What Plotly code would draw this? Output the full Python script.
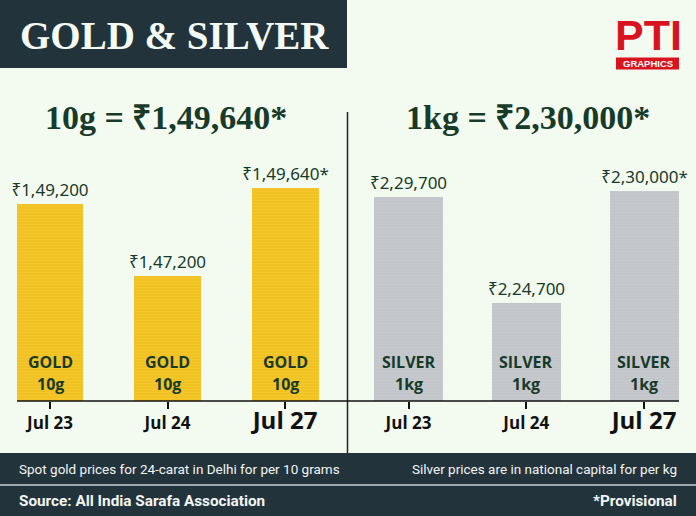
import plotly.graph_objects as go

# ---------------- data ----------------
dates = ["Jul 23", "Jul 24", "Jul 27"]
gold_prices = [149200, 147200, 149640]
silver_prices = [229700, 224700, 230000]
provisional = [False, False, True]
gold_name, gold_unit = "GOLD", "10g"
silver_name, silver_unit = "SILVER", "1kg"
gold_headline = 149640
silver_headline = 230000
title_text = "GOLD & SILVER"
note_gold = "Spot gold prices for 24-carat in Delhi for per 10 grams"
note_silver = "Silver prices are in national capital for per kg"
source_text = "Source: All India Sarafa Association"
prov_text = "*Provisional"

W, H = 696, 516
BG = "#f3fbf1"
DARK = "#22333c"
GREEN = "#173a29"


def inr(v):
    s = str(int(v))
    last3, rest = s[-3:], s[:-3]
    parts = []
    while len(rest) > 2:
        parts.insert(0, rest[-2:])
        rest = rest[:-2]
    if rest:
        parts.insert(0, rest)
    return ",".join(parts + [last3])


def px(x):
    return x / W


def py(y):
    return 1 - y / H


def labels(vals):
    return ["₹" + inr(v) + ("*" if p else "") for v, p in zip(vals, provisional)]


tick_text = [
    f"<span style='font-size:24px'>{d}</span>" if p else d
    for d, p in zip(dates, provisional)
]

fig = go.Figure()

fig.add_trace(go.Bar(
    x=dates, y=gold_prices, xaxis="x", yaxis="y", width=0.57,
    marker=dict(color="#f2c31f", line=dict(width=0),
                pattern=dict(shape="-", fgcolor="#f5cd3e", bgcolor="#f1c11f",
                             size=3, solidity=0.4)),
    text=labels(gold_prices), textposition="outside", constraintext="none",
    cliponaxis=False,
    outsidetextfont=dict(family="Noto Sans, Open Sans", size=17, color=GREEN),
    hoverinfo="skip",
))
fig.add_trace(go.Bar(
    x=dates, y=silver_prices, xaxis="x2", yaxis="y2", width=0.586,
    marker=dict(color="#c4c7cc", line=dict(width=0),
                pattern=dict(shape="-", fgcolor="#cbced2", bgcolor="#c2c5ca",
                             size=3, solidity=0.4)),
    text=labels(silver_prices), textposition="outside", constraintext="none",
    cliponaxis=False,
    outsidetextfont=dict(family="Noto Sans, Open Sans", size=17, color=GREEN),
    hoverinfo="skip",
))

ydom = [py(401), py(112)]
axis_common = dict(
    type="category", ticks="outside", ticklen=7, tickwidth=1.5, tickcolor="#111",
    showgrid=False, zeroline=False, showline=False,
    tickfont=dict(family="Open Sans", size=17, color="#111", weight="bold"),
    tickvals=dates, ticktext=tick_text, fixedrange=True,
)
fig.update_layout(
    width=W, height=H,
    margin=dict(l=0, r=0, t=0, b=0),
    paper_bgcolor=BG, plot_bgcolor=BG,
    showlegend=False, bargap=0,
    xaxis=dict(domain=[0, 0.5], range=[-0.4255, 2.536], anchor="y", **axis_common),
    xaxis2=dict(domain=[0.5, 1], range=[-0.514, 2.4416], anchor="y2", **axis_common),
    yaxis=dict(domain=ydom, range=[143687, 151778], visible=False, fixedrange=True),
    yaxis2=dict(domain=ydom, range=[220100, 233702], visible=False, fixedrange=True,
                anchor="x2"),
)

shapes = [
    dict(type="rect", xref="paper", yref="paper", x0=0, x1=px(347), y0=py(68), y1=1,
         fillcolor=DARK, line=dict(width=0), layer="below"),
    dict(type="rect", xref="paper", yref="paper", x0=0, x1=1, y0=0, y1=py(453),
         fillcolor=DARK, line=dict(width=0)),
    dict(type="line", xref="paper", yref="paper", x0=0, x1=1, y0=py(485), y1=py(485),
         line=dict(color="#c8d2d2", width=1.5)),
    dict(type="line", xref="paper", yref="paper", x0=px(347.5), x1=px(347.5),
         y0=py(112), y1=py(453), line=dict(color="#222", width=1.5)),
    dict(type="line", xref="paper", yref="paper", x0=px(17), x1=px(679),
         y0=py(401), y1=py(401), line=dict(color="#111", width=1.5)),
    dict(type="rect", xref="paper", yref="paper", x0=px(616), x1=px(679),
         y0=py(69.5), y1=py(57.5), fillcolor="#d9141f", line=dict(width=0)),
]
fig.update_layout(shapes=shapes)

ann = []
ann.append(dict(text=f"<b>{title_text}</b>", x=px(174), y=py(35), xref="paper", yref="paper",
                showarrow=False, xanchor="center", yanchor="middle",
                font=dict(family="Liberation Serif", size=39, color="#f4faf6")))
ann.append(dict(text="<b>PTI</b>", x=px(648), y=py(35), xref="paper", yref="paper",
                showarrow=False, xanchor="center", yanchor="middle",
                font=dict(family="Liberation Sans", size=43, color="#d9141f")))
ann.append(dict(text="<b>GRAPHICS</b>", x=px(647.5), y=py(63.5), xref="paper", yref="paper",
                showarrow=False, xanchor="center", yanchor="middle",
                font=dict(family="Liberation Sans", size=9.5, color="white")))
ann.append(dict(text=f"<b>{gold_unit} = ₹{inr(gold_headline)}*</b>", x=px(166), y=py(118),
                xref="paper", yref="paper", showarrow=False, xanchor="center",
                yanchor="middle",
                font=dict(family="Liberation Serif", size=34, color=GREEN)))
ann.append(dict(text=f"<b>{silver_unit} = ₹{inr(silver_headline)}*</b>", x=px(528), y=py(118),
                xref="paper", yref="paper", showarrow=False, xanchor="center",
                yanchor="middle",
                font=dict(family="Liberation Serif", size=34, color=GREEN)))

for xr, yr, name, unit in [("x", "y", gold_name, gold_unit), ("x2", "y2", silver_name, silver_unit)]:
    for d in dates:
        ann.append(dict(text=f"<b>{name}</b>", x=d, y=0, xref=xr, yref=yr + " domain",
                        showarrow=False, xanchor="center", yanchor="middle", yshift=39,
                        font=dict(family="Open Sans", size=16, color=GREEN)))
        ann.append(dict(text=f"<b>{unit}</b>", x=d, y=0, xref=xr, yref=yr + " domain",
                        showarrow=False, xanchor="center", yanchor="middle", yshift=17,
                        font=dict(family="Open Sans", size=16, color=GREEN)))

foot_font = dict(family="Roboto", size=13.5, color="#f2f6f4")
ann.append(dict(text=note_gold, x=px(17), y=py(469), xref="paper", yref="paper",
                showarrow=False, xanchor="left", yanchor="middle", font=foot_font))
ann.append(dict(text=note_silver, x=px(679), y=py(469), xref="paper", yref="paper",
                showarrow=False, xanchor="right", yanchor="middle", font=foot_font))
ann.append(dict(text=f"<b>{source_text}</b>", x=px(17), y=py(501), xref="paper", yref="paper",
                showarrow=False, xanchor="left", yanchor="middle",
                font=dict(family="Roboto", size=15.3, color="#f2f6f4")))
ann.append(dict(text=f"<b>{prov_text}</b>", x=px(679), y=py(501), xref="paper", yref="paper",
                showarrow=False, xanchor="right", yanchor="middle",
                font=dict(family="Roboto", size=15.3, color="#f2f6f4")))
fig.update_layout(annotations=ann)

fig.write_html("out.html", config={"displayModeBar": False},
               post_script="document.body.style.margin='0';document.body.style.padding='0';")
